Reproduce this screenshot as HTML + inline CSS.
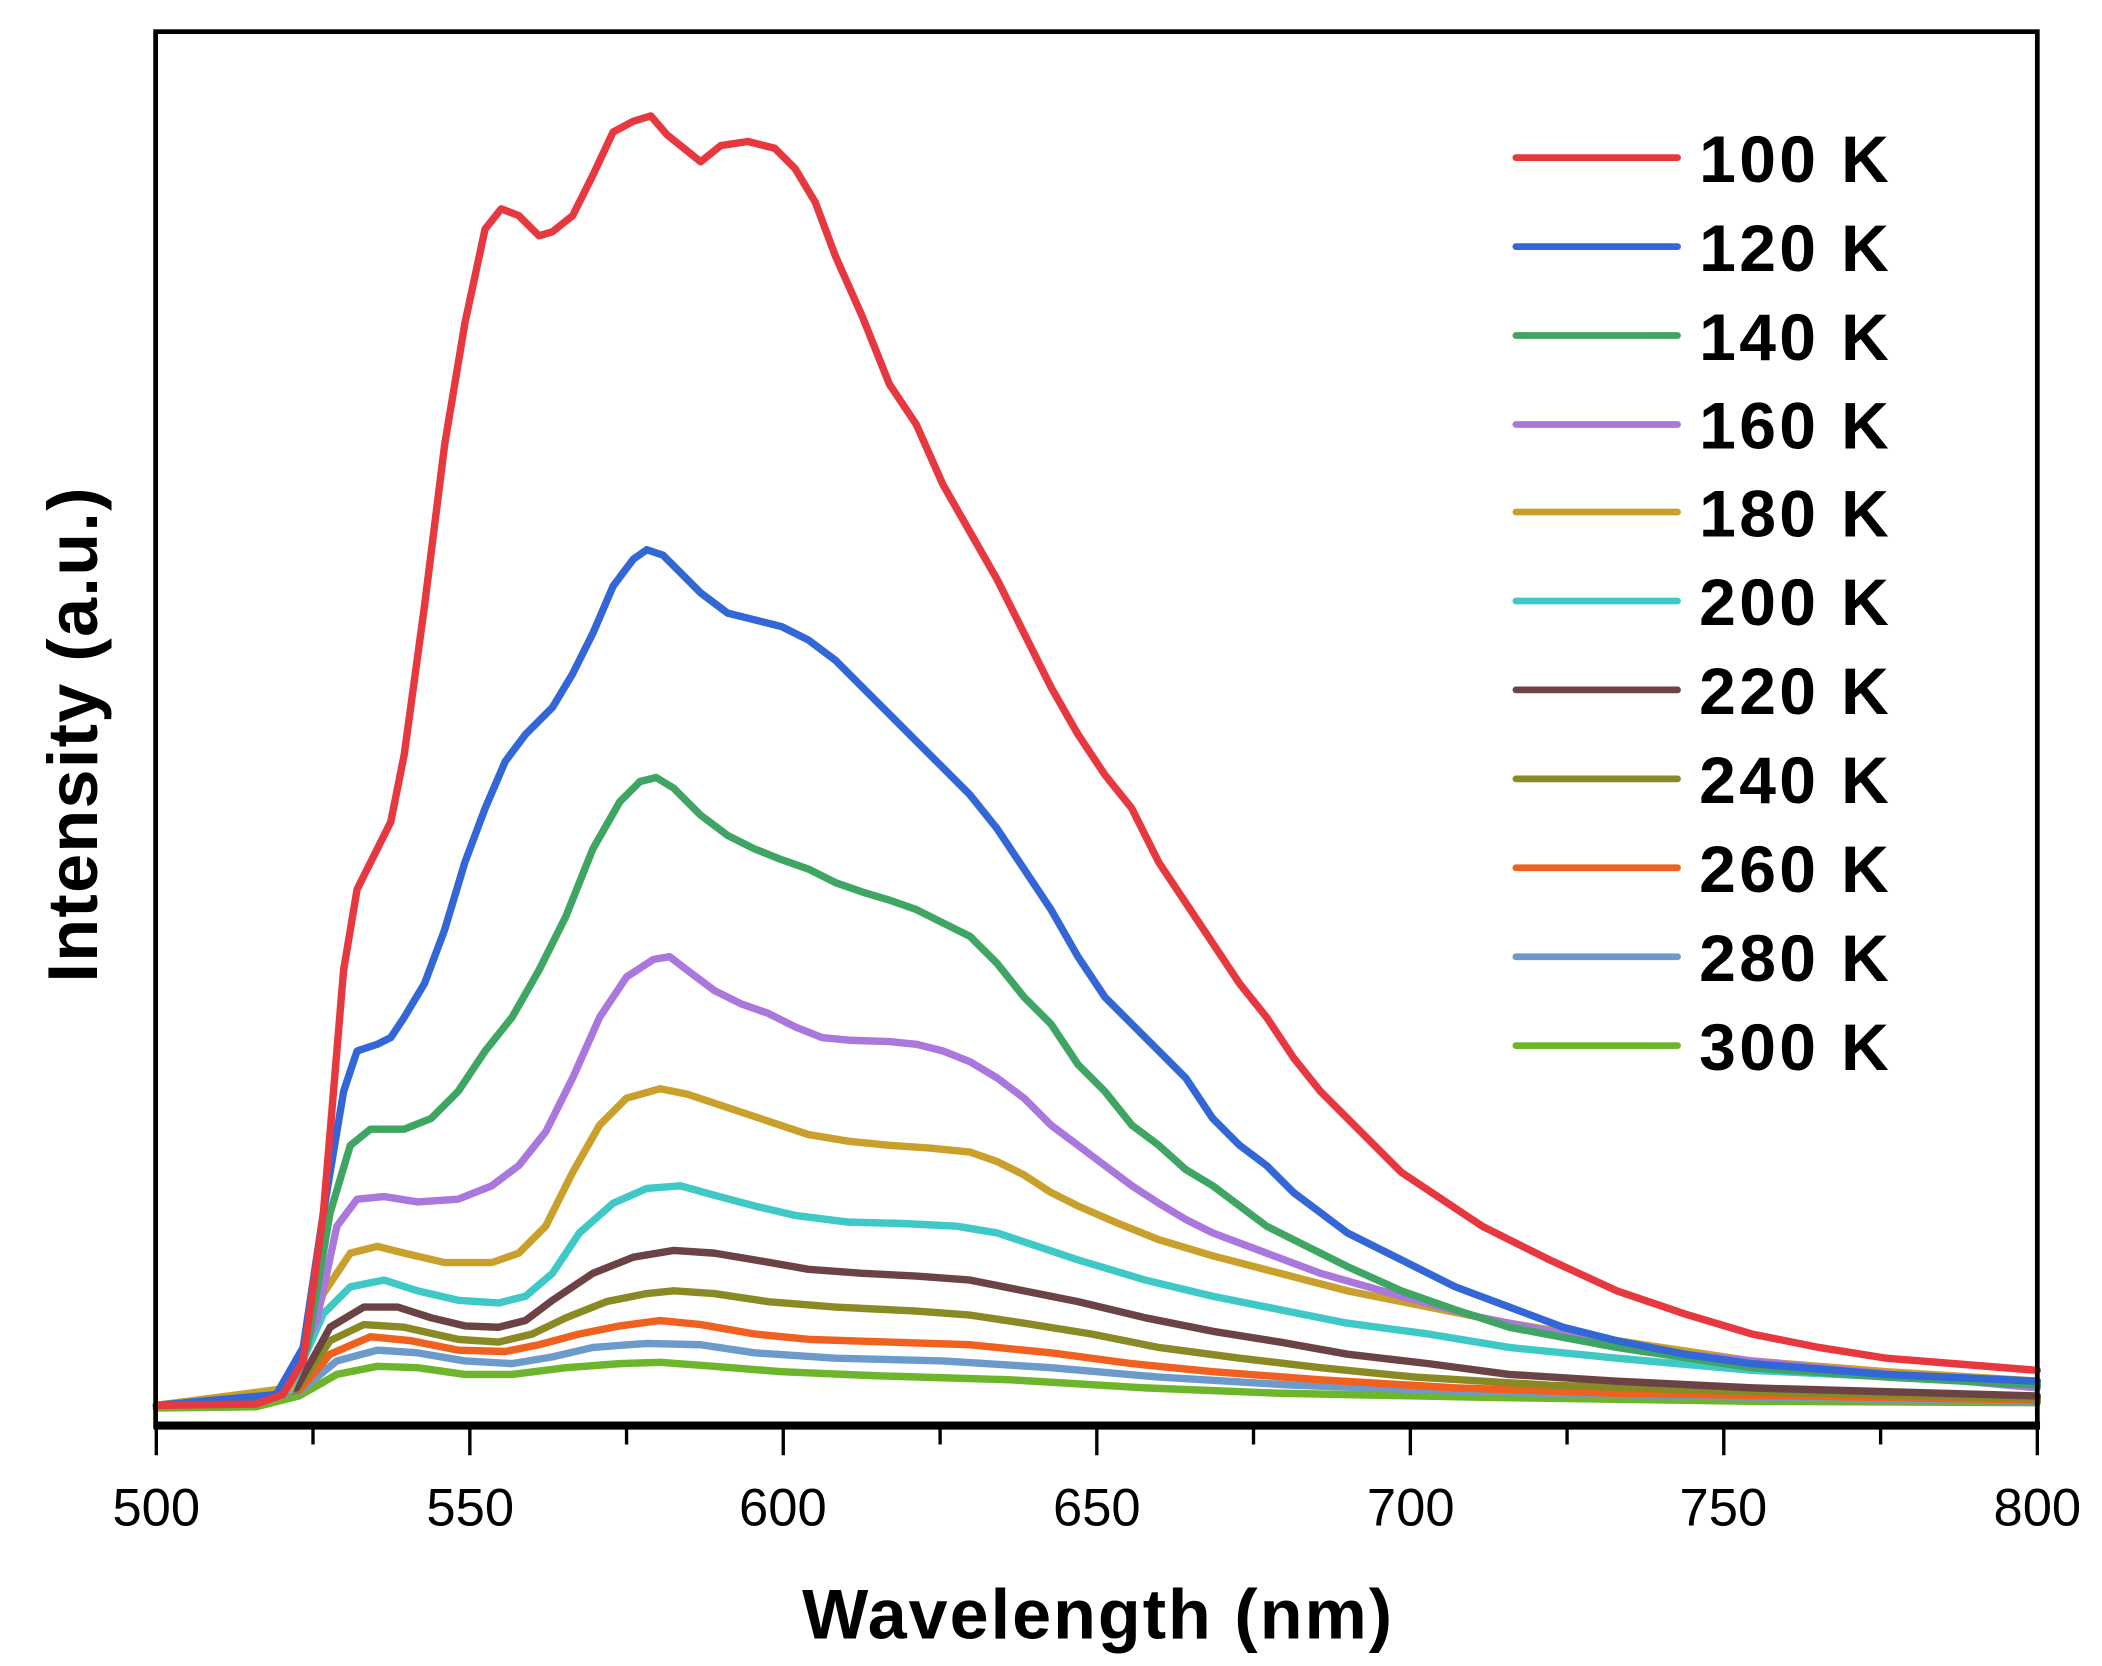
<!DOCTYPE html>
<html><head><meta charset="utf-8"><style>html,body{margin:0;padding:0;background:#fff}svg{display:block}</style></head>
<body>
<svg width="2102" height="1666" viewBox="0 0 1560 1236.4" xmlns="http://www.w3.org/2000/svg" font-family="Liberation Sans, Arial, sans-serif">
<rect width="1560" height="1236.4" fill="#fff"/>
<g fill="none" stroke-width="5.5" stroke-linejoin="round" stroke-linecap="round">
<polyline stroke="#6db52a" points="116,1045 190,1044 222,1036 250,1020 280,1014 310,1015 345,1020 380,1020 420,1015 460,1012 490,1011 530,1014 580,1018 650,1021 750,1024 850,1030 950,1034 1100,1037 1300,1040 1512,1041"/>
<polyline stroke="#6c9bcb" points="116,1043 222,1033 250,1010 280,1002 310,1004 345,1010 380,1012 410,1007 440,1000 480,997 520,998 560,1004 620,1008 700,1010 780,1015 860,1022 960,1028 1100,1033 1300,1037 1512,1040"/>
<polyline stroke="#f0601f" points="116,1043 222,1032 245,1005 275,992 305,995 340,1002 375,1003 400,998 430,990 460,984 490,980 520,983 560,990 600,994 660,996 720,998 780,1004 840,1012 900,1018 980,1024 1080,1030 1200,1034 1512,1039"/>
<polyline stroke="#8a8a25" points="116,1043 220,1032 245,995 270,983 300,985 340,994 370,996 395,990 420,978 450,966 480,960 500,958 530,960 570,966 620,970 680,973 720,976 760,982 810,990 860,1000 920,1008 980,1015 1050,1022 1150,1028 1300,1033 1512,1038"/>
<polyline stroke="#6b4345" points="116,1043 220,1030 245,985 270,970 295,970 320,978 345,984 370,985 390,980 410,965 440,945 470,933 500,928 530,930 560,935 600,942 640,945 680,947 720,950 760,958 800,966 850,978 900,988 950,996 1000,1005 1060,1012 1120,1020 1200,1025 1300,1030 1512,1036"/>
<polyline stroke="#3ec9c6" points="116,1043 215,1032 240,975 260,955 285,950 310,958 340,965 370,967 390,962 410,945 430,915 455,893 480,882 505,880 530,887 560,895 590,902 630,907 670,908 710,910 740,915 770,925 800,935 850,950 900,962 950,972 1000,982 1060,990 1120,1000 1200,1008 1300,1017 1512,1027"/>
<polyline stroke="#c9a02c" points="116,1043 215,1030 240,960 260,930 280,925 300,930 330,937 365,937 385,930 405,910 425,870 445,835 465,815 490,808 510,812 540,822 570,832 600,842 630,847 660,850 690,852 720,855 740,862 760,872 780,885 800,895 830,908 860,920 900,932 950,945 1000,958 1060,970 1120,982 1200,995 1300,1010 1400,1018 1512,1025"/>
<polyline stroke="#aa77dd" points="116,1043 210,1035 235,980 250,910 265,890 285,888 310,892 340,890 365,880 385,865 405,840 425,800 445,755 465,725 485,712 497,710 510,720 530,735 550,745 570,752 590,762 610,770 630,772 660,773 680,775 700,780 720,788 740,800 760,815 780,835 800,850 820,865 840,880 860,893 880,905 900,915 940,930 980,945 1040,962 1100,978 1160,990 1250,1005 1350,1015 1512,1030"/>
<polyline stroke="#3fa563" points="116,1043 210,1035 228,1000 245,900 260,850 275,838 300,838 320,830 340,810 360,780 380,755 400,720 420,680 440,630 460,595 475,580 487,577 500,585 520,605 540,620 560,630 580,638 600,645 620,655 640,662 660,668 680,675 700,685 720,695 740,715 760,740 780,760 800,790 820,810 840,835 860,850 880,868 900,880 920,895 940,910 960,920 1000,940 1040,958 1080,972 1120,985 1200,1000 1300,1015 1400,1022 1512,1028"/>
<polyline stroke="#3366d6" points="116,1043 205,1035 225,1000 240,900 255,810 265,780 280,775 290,770 300,755 315,730 330,690 345,640 360,600 375,565 390,545 410,525 425,500 440,470 455,435 470,415 480,408 492,412 505,425 520,440 540,455 560,460 580,465 600,475 620,490 640,510 660,530 680,550 700,570 720,590 740,615 760,645 780,675 800,710 820,740 840,760 860,780 880,800 900,830 920,850 940,865 960,885 980,900 1000,915 1040,935 1080,955 1120,970 1160,985 1200,995 1250,1005 1300,1012 1400,1020 1512,1025"/>
<polyline stroke="#e8383f" points="116,1043 190,1042 210,1035 225,1010 240,900 255,720 265,660 280,630 290,610 300,560 315,450 330,330 345,240 360,170 372,155 385,160 400,175 410,172 425,160 440,130 455,98 470,90 483,86 495,100 510,112 520,120 535,108 555,105 575,110 590,125 605,150 620,190 640,235 660,285 680,315 700,360 720,395 740,430 760,470 780,510 800,545 820,575 840,600 860,640 880,670 900,700 920,730 940,755 960,785 980,810 1000,830 1020,850 1040,870 1070,890 1100,910 1150,935 1200,958 1250,975 1300,990 1350,1000 1400,1008 1450,1012 1512,1017"/>
</g>
<rect x="115.5" y="23.5" width="1396.5" height="1035" fill="none" stroke="#000" stroke-width="3.5"/>
<line x1="114" y1="1058" x2="1514" y2="1058" stroke="#000" stroke-width="6"/>
<g stroke="#000" stroke-width="2.5">
<line x1="116" y1="1058" x2="116" y2="1080"/><line x1="232.3" y1="1058" x2="232.3" y2="1072"/>
<line x1="348.7" y1="1058" x2="348.7" y2="1080"/><line x1="465" y1="1058" x2="465" y2="1072"/>
<line x1="581.3" y1="1058" x2="581.3" y2="1080"/><line x1="697.7" y1="1058" x2="697.7" y2="1072"/>
<line x1="814" y1="1058" x2="814" y2="1080"/><line x1="930.3" y1="1058" x2="930.3" y2="1072"/>
<line x1="1046.7" y1="1058" x2="1046.7" y2="1080"/><line x1="1163" y1="1058" x2="1163" y2="1072"/>
<line x1="1279.3" y1="1058" x2="1279.3" y2="1080"/><line x1="1395.7" y1="1058" x2="1395.7" y2="1072"/>
<line x1="1512" y1="1058" x2="1512" y2="1080"/>
</g>
<g font-size="39" text-anchor="middle" fill="#000">
<text x="116" y="1132">500</text><text x="349" y="1132">550</text><text x="581" y="1132">600</text>
<text x="814" y="1132">650</text><text x="1047" y="1132">700</text><text x="1279" y="1132">750</text><text x="1512" y="1132">800</text>
</g>
<text x="815" y="1216" font-size="52" font-weight="bold" text-anchor="middle" letter-spacing="1.5">Wavelength (nm)</text>
<text transform="translate(72,545) rotate(-90)" font-size="52" font-weight="bold" text-anchor="middle" letter-spacing="1">Intensity (a.u.)</text>
<g stroke-width="5" stroke-linecap="round">
<line x1="1125" y1="117" x2="1245" y2="117" stroke="#e8383f"/>
<line x1="1125" y1="183" x2="1245" y2="183" stroke="#3366d6"/>
<line x1="1125" y1="249" x2="1245" y2="249" stroke="#3fa563"/>
<line x1="1125" y1="315" x2="1245" y2="315" stroke="#aa77dd"/>
<line x1="1125" y1="380" x2="1245" y2="380" stroke="#c9a02c"/>
<line x1="1125" y1="446" x2="1245" y2="446" stroke="#3ec9c6"/>
<line x1="1125" y1="512" x2="1245" y2="512" stroke="#6b4345"/>
<line x1="1125" y1="578" x2="1245" y2="578" stroke="#8a8a25"/>
<line x1="1125" y1="644" x2="1245" y2="644" stroke="#f0601f"/>
<line x1="1125" y1="710" x2="1245" y2="710" stroke="#6c9bcb"/>
<line x1="1125" y1="776" x2="1245" y2="776" stroke="#6db52a"/>
</g>
<g font-size="49" font-weight="bold" fill="#000" letter-spacing="2.5">
<text x="1261" y="135">100 K</text><text x="1261" y="201">120 K</text><text x="1261" y="267">140 K</text>
<text x="1261" y="333">160 K</text><text x="1261" y="398">180 K</text><text x="1261" y="464">200 K</text>
<text x="1261" y="530">220 K</text><text x="1261" y="596">240 K</text><text x="1261" y="662">260 K</text>
<text x="1261" y="728">280 K</text><text x="1261" y="794">300 K</text>
</g>
</svg>
</body></html>
